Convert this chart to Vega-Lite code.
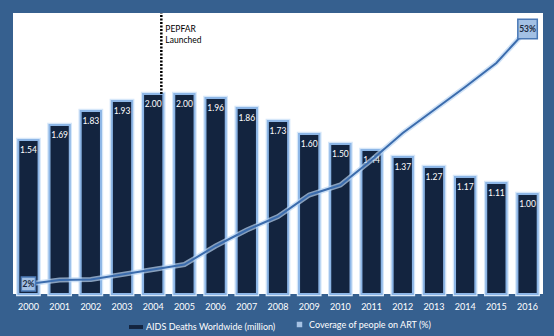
{
  "$schema": "https://vega.github.io/schema/vega-lite/v6.json",
  "width": 530,
  "height": 281,
  "autosize": {"type": "none"},
  "padding": {"left": 13, "top": 13, "right": 11, "bottom": 42},
  "background": "#36608f",
  "view": {"fill": "white", "stroke": null},
  "config": {"font": "Lato"},
  "data": {"values": [
    {"year": 2000, "deaths": 1.54, "art": 0.02},
    {"year": 2001, "deaths": 1.69, "art": 0.028},
    {"year": 2002, "deaths": 1.83, "art": 0.029},
    {"year": 2003, "deaths": 1.93, "art": 0.039},
    {"year": 2004, "deaths": 2.00, "art": 0.049},
    {"year": 2005, "deaths": 2.00, "art": 0.059},
    {"year": 2006, "deaths": 1.96, "art": 0.096},
    {"year": 2007, "deaths": 1.86, "art": 0.128},
    {"year": 2008, "deaths": 1.73, "art": 0.155},
    {"year": 2009, "deaths": 1.60, "art": 0.198},
    {"year": 2010, "deaths": 1.50, "art": 0.218},
    {"year": 2011, "deaths": 1.44, "art": 0.268},
    {"year": 2012, "deaths": 1.37, "art": 0.322},
    {"year": 2013, "deaths": 1.27, "art": 0.368},
    {"year": 2014, "deaths": 1.17, "art": 0.414},
    {"year": 2015, "deaths": 1.11, "art": 0.462},
    {"year": 2016, "deaths": 1.00, "art": 0.53}
  ]},
  "encoding": {
    "x": {
      "field": "year", "type": "ordinal",
      "scale": {"paddingInner": 0.35, "paddingOuter": 0.17},
      "axis": {"title": null, "labelAngle": 0, "labelColor": "white", "labelFontSize": 9, "labelPadding": 8, "ticks": false, "domain": false, "labelFont": "Lato"}
    }
  },
  "layer": [
    {
      "mark": {"type": "bar", "fill": "#13243f", "stroke": "#d6e7f9", "strokeWidth": 4.5},
      "encoding": {"y": {"field": "deaths", "type": "quantitative", "scale": {"domain": [0, 2.81], "nice": false}, "axis": null}}
    },
    {
      "mark": {"type": "bar", "stroke": "#8db6e6", "strokeWidth": 2},
      "encoding": {
        "y": {"field": "deaths", "type": "quantitative", "scale": {"domain": [0, 2.81], "nice": false}, "axis": null},
        "fill": {"datum": "AIDS Deaths Worldwide (million)", "scale": {"range": ["#13243f"]},
          "legend": {"title": null, "orient": "none", "legendX": 116, "legendY": 307, "symbolType": "M-1,-0.28H1V0.28H-1Z", "symbolSize": 196, "symbolStrokeWidth": 0, "symbolStrokeColor": "#13243f", "symbolFillColor": "#13243f", "labelColor": "white", "labelFontSize": 9, "labelFont": "Lato", "labelOffset": 3}}
      }
    },
    {
      "mark": {"type": "text", "color": "white", "fontSize": 8.5, "baseline": "middle", "dy": 10},
      "encoding": {
        "y": {"field": "deaths", "type": "quantitative", "scale": {"domain": [0, 2.81], "nice": false}, "axis": null},
        "text": {"field": "deaths", "type": "quantitative", "format": ".2f"}
      }
    },
    {
      "data": {"values": [{"year": 2004, "top": 2.81, "bar": 2.0}]},
      "mark": {"type": "rule", "color": "black", "strokeWidth": 2.5, "strokeDash": [2, 1.5]},
      "encoding": {
        "x": {"field": "year", "type": "ordinal", "bandPosition": 0.9},
        "y": {"field": "bar", "type": "quantitative", "scale": {"domain": [0, 2.81], "nice": false}, "axis": null},
        "y2": {"field": "top"}
      }
    },
    {
      "data": {"values": [{"year": 2004, "labely": 2.69, "label": ["PEPFAR", "Launched"]}]},
      "mark": {"type": "text", "color": "black", "fontSize": 8.5, "align": "left", "baseline": "top", "dx": 4, "lineHeight": 11},
      "encoding": {
        "x": {"field": "year", "type": "ordinal", "bandPosition": 0.9},
        "y": {"field": "labely", "type": "quantitative", "scale": {"domain": [0, 2.81], "nice": false}, "axis": null},
        "text": {"field": "label"}
      }
    },
    {
      "mark": {"type": "line", "color": "#b9d4f2", "strokeWidth": 5, "opacity": 0.7},
      "encoding": {"y": {"field": "art", "type": "quantitative", "scale": {"domain": [0, 0.562], "nice": false}, "axis": null}}
    },
    {
      "mark": {"type": "line", "strokeWidth": 2},
      "encoding": {
        "y": {"field": "art", "type": "quantitative", "scale": {"domain": [0, 0.562], "nice": false}, "axis": null},
        "stroke": {"datum": "Coverage of people on ART (%)", "scale": {"range": ["#3b6cad"]},
          "legend": {"title": null, "orient": "none", "legendX": 282, "legendY": 307, "symbolType": "square", "symbolSize": 30, "labelColor": "white", "labelFontSize": 9, "labelFont": "Lato", "labelOffset": 5,
            "encode": {"symbols": {"update": {"fill": {"value": "#a6c2e4"}, "stroke": {"value": "#a6c2e4"}, "strokeWidth": {"value": 0}, "opacity": {"value": 1}}}}}}
      }
    },
    {
      "transform": [{"filter": "datum.year == 2000 || datum.year == 2016"}],
      "mark": {"type": "square", "filled": true, "fill": "#a3c0e4", "stroke": "#4a78b5", "strokeWidth": 1.5, "opacity": 1},
      "encoding": {
        "y": {"field": "art", "type": "quantitative", "scale": {"domain": [0, 0.562], "nice": false}, "axis": null},
        "size": {"condition": {"test": "datum.year == 2016", "value": 380}, "value": 200}
      }
    },
    {
      "transform": [{"filter": "datum.year == 2000 || datum.year == 2016"}],
      "mark": {"type": "text", "color": "#1a2a40", "fontSize": 8.5, "fontWeight": "bold"},
      "encoding": {
        "y": {"field": "art", "type": "quantitative", "scale": {"domain": [0, 0.562], "nice": false}, "axis": null},
        "text": {"field": "art", "type": "quantitative", "format": ".0%"}
      }
    }
  ],
  "resolve": {"scale": {"y": "independent"}}
}
